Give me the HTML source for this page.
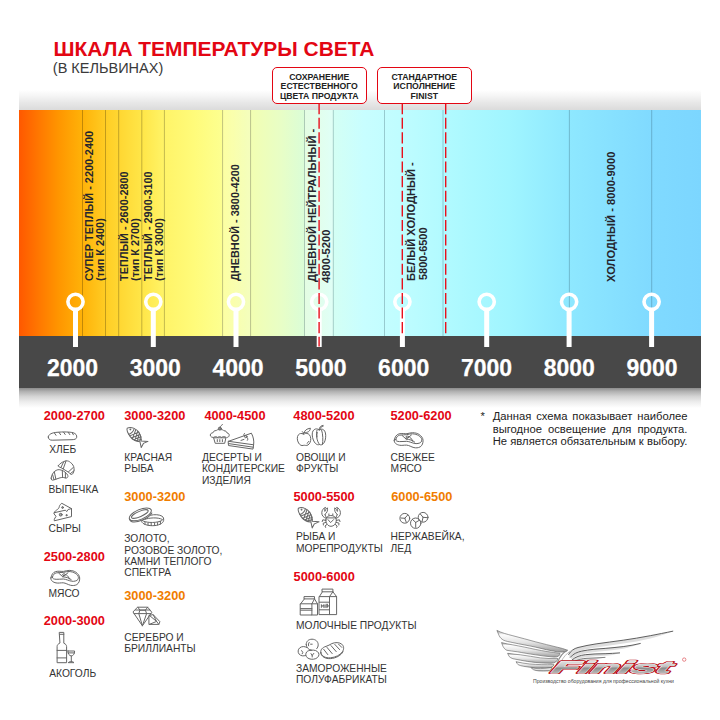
<!DOCTYPE html>
<html lang="ru">
<head>
<meta charset="utf-8">
<title>Шкала температуры света</title>
<style>
html,body{margin:0;padding:0;background:#fff;}
body{width:720px;height:720px;position:relative;overflow:hidden;font-family:"Liberation Sans",sans-serif;color:#2b2b2b;}
.abs{position:absolute;white-space:nowrap;line-height:1;}
#title{left:53.6px;top:38.9px;font-size:20.92px;font-weight:bold;color:#e30613;letter-spacing:0;}
#sub{left:52.8px;top:60.9px;font-size:14.5px;color:#3a3a3a;}
#topshade{position:absolute;left:19px;top:90px;width:682px;height:20px;background:linear-gradient(to bottom,#ffffff 0%,#f5f5f5 30%,#e8e8e8 62%,#dbdbdb 100%);}
#scale{position:absolute;left:19px;top:110px;width:682px;height:226px;
background:linear-gradient(to right,
#ff5800 0px,#ff7800 20px,#ff9600 40px,#ffb208 63px,#ffd028 90px,#ffe648 123px,#fff468 146px,#fffb7a 175px,#fdff90 203px,#f2feb2 232px,#e8fec6 262px,#dafdd8 286px,#d4fff4 314px,#c8feff 345px,#c0fdff 380px,#b0faff 430px,#a0f5ff 490px,#8ee8ff 550px,#80daff 632px,#7cd6ff 682px);}
#dark{position:absolute;left:19px;top:335.7px;width:682px;height:52px;background:#484848;}
#botshade{position:absolute;left:19px;top:387.7px;width:682px;height:20px;background:linear-gradient(to bottom,#8c8c8c 0%,#b2b2b2 18%,#d4d4d4 42%,#ededed 70%,#ffffff 100%);}
#gfx{position:absolute;left:0;top:0;width:720px;height:720px;}
.num{position:absolute;top:356.9px;width:80px;margin-left:-40px;text-align:center;font-size:23px;font-weight:bold;color:#fff;line-height:1;-webkit-text-stroke:0.25px #fff;}
.rot{position:absolute;white-space:nowrap;transform-origin:0 0;transform:rotate(-90deg);font-weight:bold;color:#26262e;font-size:11.2px;line-height:10.6px;}
.rot small{font-size:10.2px;}
.box{position:absolute;top:66.8px;height:36.9px;border:1.4px solid #e30613;border-radius:5px;background:#fff;box-sizing:border-box;text-align:center;font-weight:bold;font-size:8.7px;line-height:9.45px;color:#222;padding-top:5.2px;}
.hd{position:absolute;white-space:nowrap;font-weight:bold;font-size:12.8px;margin-top:0.8px;line-height:1;color:#e30613;}
.hd.o{color:#f07d00;}
.lb{position:absolute;white-space:nowrap;font-size:10.25px;line-height:11.25px;color:#333;margin-top:0.75px;}
.ic{position:absolute;overflow:visible;}
.ic *{fill:none;stroke:#666;stroke-width:1;stroke-linecap:round;stroke-linejoin:round;}
#note{position:absolute;left:492.7px;top:410.4px;width:194.8px;font-size:11.25px;line-height:12.2px;color:#222;}
#note div{text-align:justify;text-align-last:justify;white-space:nowrap;}
#star{position:absolute;left:480.6px;top:410.4px;font-size:11.25px;line-height:12.2px;color:#222;}
</style>
</head>
<body>
<div class="abs" id="title">ШКАЛА ТЕМПЕРАТУРЫ СВЕТА</div>
<div class="abs" id="sub">(В КЕЛЬВИНАХ)</div>
<div id="topshade"></div>
<div id="scale"></div>
<div id="dark"></div>
<div id="botshade"></div>

<svg id="gfx" viewBox="0 0 720 720">
<!-- lighter overlay bands -->
<rect x="304.5" y="110" width="28.5" height="226" fill="#ffffff" opacity="0.28"/>
<rect x="222" y="110" width="28.5" height="226" fill="#ffffff" opacity="0.16"/>
<!-- vertical thin lines -->
<g stroke="#000" stroke-opacity="0.24" stroke-width="1">
<path d="M82.5 110V336M105.5 110V336M118.7 110V336M141.8 110V336M164.4 110V336M222.6 110V336M250.6 110V336"/>
</g>
<g stroke="#1a3a44" stroke-opacity="0.26" stroke-width="1">
<path d="M304.5 110V336M333.3 110V336M384.5 110V336M443 110V336M569.4 110V336M651.700 110V336"/>
</g>
<!-- marker pins -->
<g fill="none" stroke="#fff" stroke-width="3.6">
<circle cx="75.5" cy="301.8" r="7.6"/><circle cx="153.3" cy="301.8" r="7.6"/><circle cx="236" cy="301.8" r="7.6"/><circle cx="319.2" cy="301.8" r="7.6"/><circle cx="402.4" cy="301.8" r="7.6"/><circle cx="486.7" cy="301.8" r="7.6"/><circle cx="569.1" cy="301.8" r="7.6"/><circle cx="651.6" cy="301.8" r="7.6"/>
</g>
<g fill="#fff">
<rect x="73" y="310" width="5" height="37"/><rect x="150.8" y="310" width="5" height="37"/><rect x="233.5" y="310" width="5" height="37"/><rect x="316.7" y="310" width="5" height="37"/><rect x="399.9" y="310" width="5" height="37"/><rect x="484.2" y="310" width="5" height="37"/><rect x="566.6" y="310" width="5" height="37"/><rect x="649.1" y="310" width="5" height="37"/>
</g>
<!-- red dashed lines -->
<g stroke="#e8101c" stroke-width="1.4" stroke-dasharray="11.1 3.5" fill="none">
<path d="M319.1 103.1V346.600"/><path d="M402.3 103.1V333.500"/><path d="M445.7 103.1V334.500"/>
</g>
</svg>

<!-- callout boxes -->
<div class="box" style="left:272px;width:94.5px;">СОХРАНЕНИЕ<br>ЕСТЕСТВЕННОГО<br>ЦВЕТА ПРОДУКТА</div>
<div class="box" style="left:377px;width:94.5px;">СТАНДАРТНОЕ<br>ИСПОЛНЕНИЕ<br>FINIST</div>

<!-- rotated labels -->
<div class="rot" style="left:83.82px;top:280.60px;font-size:10.95px;line-height:10.95px;">СУПЕР ТЕПЛЫЙ - 2200-2400</div>
<div class="rot" style="left:95.3px;top:280.60px;font-size:10.9px;line-height:10.9px;">(тип К 2400)</div>
<div class="rot" style="left:119.28px;top:280.60px;font-size:10.9px;line-height:10.9px;">ТЕПЛЫЙ - 2600-2800</div>
<div class="rot" style="left:129.8px;top:280.60px;font-size:10.9px;line-height:10.9px;">(тип К 2700)</div>
<div class="rot" style="left:142.98px;top:280.60px;font-size:10.9px;line-height:10.9px;">ТЕПЛЫЙ - 2900-3100</div>
<div class="rot" style="left:153.7px;top:280.60px;font-size:10.9px;line-height:10.9px;">(тип К 3000)</div>
<div class="rot" style="left:230.27px;top:280.60px;font-size:10.92px;line-height:10.92px;">ДНЕВНОЙ - 3800-4200</div>
<div class="rot" style="left:306.95px;top:282.20px;font-size:11.1px;line-height:11.1px;">ДНЕВНОЙ НЕЙТРАЛЬНЫЙ -</div>
<div class="rot" style="left:320.55px;top:282.50px;font-size:11.2px;line-height:11.2px;">4800-5200</div>
<div class="rot" style="left:405.64px;top:280.70px;font-size:11.15px;line-height:11.15px;">БЕЛЫЙ ХОЛОДНЫЙ -</div>
<div class="rot" style="left:417.75px;top:280.20px;font-size:11.0px;line-height:11.0px;">5800-6500</div>
<div class="rot" style="left:605.84px;top:281.60px;font-size:11.2px;line-height:11.2px;">ХОЛОДНЫЙ - 8000-9000</div>

<!-- scale numbers -->
<div class="num" style="left:72.5px;">2000</div>
<div class="num" style="left:155.3px;">3000</div>
<div class="num" style="left:238.1px;">4000</div>
<div class="num" style="left:320.9px;">5000</div>
<div class="num" style="left:403.7px;">6000</div>
<div class="num" style="left:486.5px;">7000</div>
<div class="num" style="left:569.3px;">8000</div>
<div class="num" style="left:652.1px;">9000</div>

<!-- LEGEND -->
<div class="hd" style="left:43.7px;top:409px;">2000-2700</div>
<div class="lb" style="left:49.2px;top:443.5px;">ХЛЕБ</div>
<div class="lb" style="left:48.5px;top:483.5px;">ВЫПЕЧКА</div>
<div class="lb" style="left:48.5px;top:522.3px;">СЫРЫ</div>
<div class="hd" style="left:43.7px;top:550px;">2500-2800</div>
<div class="lb" style="left:48.5px;top:586.8px;">МЯСО</div>
<div class="hd" style="left:43.7px;top:614px;">2000-3000</div>
<div class="lb" style="left:49.2px;top:666.8px;">АКОГОЛЬ</div>

<div class="hd" style="left:124.2px;top:409px;">3000-3200</div>
<div class="lb" style="left:124.3px;top:451px;">КРАСНАЯ<br>РЫБА</div>
<div class="hd o" style="left:124.2px;top:490.4px;">3000-3200</div>
<div class="lb" style="left:124.3px;top:532.5px;">ЗОЛОТО,<br>РОЗОВОЕ ЗОЛОТО,<br>КАМНИ ТЕПЛОГО<br>СПЕКТРА</div>
<div class="hd o" style="left:124.2px;top:589px;">3000-3200</div>
<div class="lb" style="left:124.3px;top:631.3px;">СЕРЕБРО И<br>БРИЛЛИАНТЫ</div>

<div class="hd" style="left:204.4px;top:409px;">4000-4500</div>
<div class="lb" style="left:202px;top:451.3px;">ДЕСЕРТЫ И<br>КОНДИТЕРСКИЕ<br>ИЗДЕЛИЯ</div>

<div class="hd" style="left:293.3px;top:409px;">4800-5200</div>
<div class="lb" style="left:296px;top:451.3px;">ОВОЩИ И<br>ФРУКТЫ</div>
<div class="hd" style="left:293.5px;top:490.4px;">5000-5500</div>
<div class="lb" style="left:296px;top:530.5px;">РЫБА И<br>МОРЕПРОДУКТЫ</div>
<div class="hd" style="left:293.6px;top:570.4px;">5000-6000</div>
<div class="lb" style="left:296px;top:619.3px;">МОЛОЧНЫЕ ПРОДУКТЫ</div>
<div class="lb" style="left:296px;top:662.3px;">ЗАМОРОЖЕННЫЕ<br>ПОЛУФАБРИКАТЫ</div>

<div class="hd" style="left:390.5px;top:409px;">5200-6200</div>
<div class="lb" style="left:390.6px;top:451.3px;">СВЕЖЕЕ<br>МЯСО</div>
<div class="hd o" style="left:391.2px;top:490.4px;">6000-6500</div>
<div class="lb" style="left:390.6px;top:530.5px;">НЕРЖАВЕЙКА,<br>ЛЕД</div>

<div id="star">*</div>
<div id="note"><div>Данная схема показывает наиболее</div><div>выгодное освещение для продукта.</div><div>Не является обязательным к выбору.</div></div>

<svg class="ic" style="left:0;top:0" width="720" height="720" viewBox="0 0 720 720">
<!-- bread -->
<path d="M48.3 437C48.3 434.2 52 432.7 57 432.3C63 431.7 70 431.9 73 432.7C76 433.5 77 435.4 76.7 437.3C76.4 439.1 74.6 439.6 72 439.7L52.2 440.2C49.6 440.2 48.3 439 48.3 437Z"/>
<path d="M54.4 433L56 435.3M59 432.4L60.6 434.7M63.6 432.2L65.2 434.5M68.2 432.3L69.8 434.6M72.2 432.9L73.4 434.8" stroke-width=".8"/>
<!-- croissants -->
<path d="M58.3 465.6C60 463.6 62 462.2 63.6 461.7C64.6 461.2 65.4 460.9 66.2 460.8C68 460.8 69.4 461.4 70.4 462.4C71.6 463.2 72.4 464.2 72.9 465C73.6 466 74 467.2 74 468.3C74.2 469.6 74.2 470.8 73.7 471.7C73.4 472.8 73 473.6 72.3 474.2C71.8 474.6 71.2 474.6 70.7 474.2C69.8 473.4 69.2 472.8 68.4 472.2L61.8 468.1C60.6 467.5 59.4 467 58.6 466.6C58.1 466.3 58 465.9 58.3 465.6Z"/>
<path d="M63.7 461.8L60.9 467.5M66 461L63.2 468.9M73.2 467.5L68.4 471.9M74 470.8L70.4 473.6" stroke-width=".8"/>
<path d="M51.2 478.1C51.4 476.6 51.8 475.4 52.3 474.4C52.9 473.2 53.6 472.2 54.6 471.4C55.6 470.6 56.7 470 57.9 469.7C59.2 469.5 60.6 469.8 61.8 470.3C63 470.7 64.2 471.4 65.1 472.2C66.2 473 67.1 474 67.6 475C68 475.8 68.1 476.6 67.6 477.2C67.2 477.8 66.7 478.1 66.2 478.1C65.2 478 64.3 477.6 63.4 477.5C62.3 477.4 61.2 477.5 60.1 477.8C59 478.1 57.9 478.5 56.8 478.9L53.4 480C52.8 480.2 52.2 480.2 51.8 480C51.3 479.6 51.1 478.8 51.2 478.1Z"/>
<path d="M54.3 471.7L55.9 479.2M52.6 474.7L54 479.7M62.3 470.6L62.6 477.5M65.4 472.5L65.4 477.8" stroke-width=".8"/>
<!-- cheese -->
<path d="M54.3 512.7L65.4 510.2L66.7 511.6L68.1 509.5L71.5 508.6L71.5 516.6L54.3 520.8L54.3 519.2L56 516.3L54.3 514.2Z"/>
<path d="M54.3 512.7C54.5 511.2 56 510.5 57.4 509.5C58.8 508.5 59.2 507.5 59.4 506.3C59.7 505 60.8 504 61.8 503.3L71.5 508.6"/>
<circle cx="62.6" cy="507.5" r=".9" style="fill:#999"/><circle cx="60.7" cy="514.7" r="1.4" style="fill:#aaa"/><circle cx="66.5" cy="515.2" r=".6" style="fill:#888"/>
<!-- steak 1 -->
<path d="M50.9 577.9C51.5 574.5 53 572.4 55.6 571.6C58.5 570.8 61.5 571.6 63.6 571.4C65.6 571.2 67 570.3 69.2 570.4C72 570.5 74.2 571 75.8 572.2C78 573.8 79.6 575.6 79.7 578C79.8 580.6 79 583.2 76.8 584.6C74.8 585.7 72.6 585.7 70.6 585.3C67.8 584.6 65.8 583 63.2 582.8C60.6 582.7 58.6 583.4 56 582.9C53.4 582.3 50.4 580.8 50.9 577.9Z"/><path d="M52.4 577.2C53 574.6 54.4 573.4 56.2 572.9C58.6 572.3 61.4 572.8 63.4 572.4C65.4 572 67 571.4 69 571.5C71.6 571.7 73.6 572.2 75.2 573.3C77 574.6 78.4 575.8 78.4 577.4C78.4 579.2 77.6 580.4 75.8 580.9C74.2 581.4 73 581.4 71.6 581.2C68.6 580.7 66.2 579.2 63.4 579C60.8 578.9 58.4 579.5 56.2 579.3C54 579.1 52 578.8 52.4 577.2Z"/><path d="M58.8 573.2L62.8 576.8L68 572.8M62.8 576.8C66 577 69.6 578 71.4 579.8M66.6 575C68 576 69 577.6 69.4 579"/><ellipse cx="64" cy="574.7" rx="1.5" ry=".9"/>
<!-- bottle + glass -->
<path d="M59.6 632.4H63.8V643.2C65.6 644 66.6 645 66.6 646.6V662.7H57.1V646.6C57.1 645 58 644 59.6 643.2Z"/>
<path d="M59.6 634.3H63.8M57.1 650.4H66.6M57.1 657.9H66.6"/>
<path d="M67.9 651H74.6C74.6 654 73.4 655.6 71.3 656C69.2 655.6 67.9 654 67.9 651ZM71.3 656V661.6M68.5 662.4C69.4 661.7 70.4 661.5 71.3 661.5C72.2 661.5 73 661.7 73.7 662.4ZM68.1 652.9H74.4"/>
<!-- fish 1 -->
<g transform="translate(127.2 428.1) rotate(42.6)"><path d="M0 0C1.5 -4 7 -6 12 -4.6C15.5 -3.6 18 -1.5 19 0L24.3 -4.3L22.3 .3L23.5 4.8L18.6 1.4C16 3.5 12 5 8 4.2C3.5 3.2 .8 2.4 0 0Z"/><path d="M5.5 -4.2C6.8 -2 6.8 2 5.2 3.6"/><circle cx="3.2" cy="-1.2" r=".45"/><path d="M7.4 -4.6L11.2 4.6M9.8 -5L14 3.9M12.4 -4.5L16.200 2.7M15 -3.3L18 .8M7.2 3.9L11.2 -5M9.6 4.5L13.8 -4M12.2 4.4L16 -2.9M14.800 3.4L18 -1.2" stroke-width=".75"/></g>
<!-- rings -->
<g transform="translate(140.3 514.4) rotate(-23)"><ellipse rx="11.8" ry="4.9"/><ellipse cx="-.3" cy="-.5" rx="9" ry="2.6"/><path d="M-11.8 0C-11.9 1.6 -11.5 2.6 -10.6 3.4C-7 6.6 6 7.2 11.2 3.2"/></g>
<path d="M150.6 515.2C154.4 514.2 159.6 514.6 162 516.2C163.6 517.2 163.8 518.6 163.6 520.6C163.2 523.4 158.6 525.6 152.8 525.7C147.6 525.7 142.6 524.4 141.6 521.6"/>
<path d="M144.8 519.4C148.8 517.6 158.2 517.2 161.8 519.2M142 520.4C145 522.6 154 523.4 160.4 521.2C162.4 520.4 163.4 519.4 163.6 518.4M160.4 521.2V524"/>
<path d="M145 522.3V524.6M148 523V525.2M151.2 523.3V525.6M154.6 523.2V525.6M157.6 522.6V524.9" stroke-width=".8"/>
<!-- diamonds -->
<path d="M137.9 607.2H147.7L151.8 612.3L142.4 625.8L133.2 612.3Z"/>
<path d="M134 613.6H151M135.6 610H149.8M139.9 610.2H145.4M137.9 607.2L139.9 610.2L138.8 613.6L142.4 625.8M147.7 607.2L145.4 610.2L146.6 613.6L142.4 625.8" stroke-width=".8"/>
<path d="M149.3 615.3L153.2 614.7L159.9 621.7L158.8 624.4H149.3Z"/>
<path d="M149.3 615.3L156.6 621.4L149.3 624.4M153.2 614.7L156.6 621.4L158.8 624.4" stroke-width=".8"/>
<!-- cupcake -->
<path d="M212.6 437.4C210.4 437.2 209.8 435.2 210.6 434C211.2 433 212.4 432.8 213 432.8C213.2 431.4 214.6 430.4 216.2 430.6C217 429.8 218 429.4 218.8 429.6M221.2 429.6C222.4 429.6 223.4 430 224 430.8C225.6 430.6 226.8 431.6 227 433C228.4 433 229.4 434.2 229.2 435.4C229 436.8 228 437.4 227.2 437.4"/>
<circle cx="219.9" cy="428.6" r="1.5" style="fill:#8a8a8a"/><path d="M220.2 427.2C220.6 426 221.4 425.2 222.4 424.6"/>
<path d="M213.4 437.4C215 436.4 216.4 436.4 217.6 437.4C218.8 436.4 220.4 436.4 221.6 437.4C222.8 436.4 224.6 436.4 226.2 437.4M214 437.8H225.9L224.7 443.3H215.6ZM217.3 439.6V441.6M219.8 439.6V441.6M222.4 439.6V441.6"/>
<!-- cake slice -->
<path d="M228.5 441.3L251.4 433.2C253.4 437 254.2 441 253.6 444.8L253 449.1L228.9 445.6Z"/>
<path d="M228.5 441.3L253.6 444.8M228.7 443.6L253.3 447.2" stroke-width=".8"/>
<circle cx="245.8" cy="436.6" r="1.2"/><path d="M244.6 436.2C243.4 434.8 243.6 434 244.6 433.4M247 437.4C248.2 438.6 248 439.8 247.4 440.4M241 440.4L244 439.4" stroke-width=".8"/>
<!-- apple -->
<path d="M303.1 433.9C301.6 433 299.6 433.4 298.4 434.8C296.8 436.8 297 440.4 298.6 443C299.8 445 301.6 446 303.2 445.4C304 445.2 304.6 445.2 305.4 445.4C307.2 446 309 444.6 310 442.6C311.2 440 311 436.6 309.4 434.8C308 433.2 305.8 433 304.4 433.9C304 434.1 303.5 434.1 303.1 433.9Z"/>
<path d="M303.6 433.8C303.4 432.8 303 432.2 302.4 431.6M304.2 432.6C304.6 430.2 306.8 428.8 310.4 428.2C310.2 431 308.2 432.8 304.2 432.6ZM307 443.4C307.8 442.8 308.4 442.2 308.8 441.4" />
<!-- pepper -->
<path d="M319.2 429.8C317.6 428.6 315.6 428.6 314.2 429.6C312.2 431 311.8 434 312.6 437.6C313.4 441 315 443.6 316.8 444.4C317.8 444.9 318.6 444.8 319.4 444.4C320.4 445 321.4 445 322.4 444.4C324 443.6 325.2 441.2 325.6 437.8C326 434.4 325.4 431 323.6 429.8C322.2 428.8 320.6 429 319.2 429.8Z"/>
<path d="M319.4 444.4C317 441.6 315.6 434.6 317 430.2M322.4 444.4C323.2 441 323 433.8 321.6 430M319.1 429.8C319.3 427.4 320.6 425.6 323 425.4M319.9 429.8C320.1 427.8 321.2 426.3 323.2 426.1M317.2 432.4C316.8 434 316.8 435.6 317 437"/>
<!-- fish 2 -->
<g transform="translate(298.4 508.3) rotate(43.4)"><path d="M0 0C1.5 -4 7 -6 12 -4.6C15.5 -3.6 18 -1.5 19 0L24.3 -4.3L22.3 .3L23.5 4.8L18.6 1.4C16 3.5 12 5 8 4.2C3.5 3.2 .8 2.4 0 0Z"/><path d="M5.5 -4.2C6.8 -2 6.8 2 5.2 3.6"/><circle cx="3.2" cy="-1.2" r=".45"/><path d="M7.4 -4.6L11.2 4.6M9.8 -5L14 3.9M12.4 -4.5L16.200 2.7M15 -3.3L18 .8M7.2 3.9L11.2 -5M9.6 4.5L13.8 -4M12.2 4.4L16 -2.9M14.800 3.4L18 -1.2" stroke-width=".75"/></g>
<!-- crab -->
<path d="M325.8 520C326 517.2 328 515.6 330.8 515.5C333.6 515.5 336.2 517 336.3 520C336.4 523.4 334 526.2 331 526.3C328 526.3 325.6 523.4 325.8 520ZM326.2 517.9H335.9"/>
<path d="M328 519.6L330.6 522.6L333.6 519.6M328.9 513.9V515.2M332.8 513.9V515.2" />
<path d="M326 518.2C323.4 517.6 321.6 515.4 321.8 512.6C322 510 323.4 508 325.6 507.4C324.6 508.8 324.4 510.2 324.8 511.4C325.4 510 326.2 508.6 327.4 507.8C328 510.4 327 513 325 514.4M325 514.4C325.2 515.6 325.6 516.6 326.4 517.4"/>
<path d="M336.2 518.2C338.8 517.6 340.6 515.4 340.4 512.6C340.2 510 338.8 508 336.6 507.4C337.6 508.8 337.8 510.2 337.4 511.4C336.8 510 336 508.6 334.8 507.8C334.2 510.4 335.2 513 337.2 514.4M337.2 514.4C337 515.6 336.6 516.6 335.8 517.4"/>
<path d="M325.8 520.4L322.8 519.8L322.2 521.6M326 522.4L323.2 523.2L323.4 525M327 524.4L325 526L325.6 527.4M336.4 520.4L339.4 519.8L340 521.6M336.2 522.4L339 523.2L338.8 525M335.2 524.4L337.2 526L336.6 527.4"/>
<!-- milk -->
<path d="M300.6 603.8H311.9V615H300.6ZM311.9 603.8H317.5V615H311.9M304.4 596.6H314.5V598.9H304.4ZM304.4 598.9L300.6 603.8M314.5 598.9L317.5 603.8M314.5 598.9L311.9 603.8M300.6 608.6H311.9M300.6 610.2H311.9"/>
<path d="M319.4 596.6H329.5V614.6H319.4ZM329.5 596.6H336.6V614.6H329.5M322.4 589.1H332.9V591.8H322.4ZM322.4 591.8L319.4 596.6M332.9 591.8L336.6 596.6M332.9 591.8L329.5 596.6M319.4 602.2H329.5M319.4 609.8H329.5M321.4 607.4V604.6L322.6 606.4L323.8 604.6V607.4M325 605.2V607.4M326.2 604.2V607.4M327.4 604.2V607.4L328.6 605.6" stroke-width=".85"/>
<!-- frozen -->
<path d="M306.2 644.6C306 641.4 308.6 639.2 312 639.2C315.600 639.2 318.2 641.600 318.2 644.800C318.2 646.400 317.600 647.800 316.600 648.800"/>
<path d="M306.600 647.400C304.800 646.200 301.800 646.200 299.800 647.800C297.800 649.400 297.600 652.400 299.200 654.200C300.800 656 303.600 656.400 305.600 655.400"/>
<path d="M306.200 644.600C306.300 647.200 308.200 649.600 311 650.200M311 650.200C314.400 649.600 317.400 650.800 318.600 653C319.600 655 318.400 657.400 315.800 658.600C313 659.800 309.200 659.400 307.200 657.600C305.400 656 305.400 653.400 306.800 651.800C307.800 650.800 309.400 650.300 311 650.200Z"/>
<path d="M309.200 642.400C308.400 643.400 308.200 644.600 308.600 645.800M310.600 644.200H312.200M301.600 650.600L302.800 652.400L302.200 653.800M311 653.600L312.200 655.400L313.800 653.400M312.200 655.400V657" stroke-width=".8"/>
<path d="M320.800 652.600C320.200 649.800 322.400 647.400 326 646.400C328.400 645.800 329.600 644.600 331.800 643.600C335 642.200 339.400 642.200 341.800 644.200C344 646 344.200 649.200 342.400 651.800C340.200 655 335.600 657.400 330.400 657.800C325.600 658.200 321.400 656.400 320.800 652.600Z"/>
<path d="M320.900 653.400C321.400 656.600 325.400 659 330.600 658.600C336 658.200 341.200 655.400 343 651.800M323.600 649.200L327.800 654.600M327 647.400L332.200 653.600M331 645.600L336.200 651.600M334.800 644.400L339.600 649.600M338.600 644.200L341.800 647.400" />
<!-- steak 2 -->
<g transform="translate(343.35 -137.7)"><path d="M50.9 577.9C51.5 574.5 53 572.4 55.6 571.6C58.5 570.8 61.5 571.6 63.6 571.4C65.6 571.2 67 570.3 69.2 570.4C72 570.5 74.2 571 75.8 572.2C78 573.8 79.6 575.6 79.7 578C79.8 580.6 79 583.2 76.8 584.6C74.8 585.7 72.6 585.7 70.6 585.3C67.8 584.6 65.8 583 63.2 582.8C60.6 582.7 58.6 583.4 56 582.9C53.4 582.3 50.4 580.8 50.9 577.9Z"/><path d="M52.4 577.2C53 574.6 54.4 573.4 56.2 572.9C58.6 572.3 61.4 572.8 63.4 572.4C65.4 572 67 571.4 69 571.5C71.6 571.7 73.6 572.2 75.2 573.3C77 574.6 78.4 575.8 78.4 577.4C78.4 579.2 77.6 580.4 75.8 580.9C74.2 581.4 73 581.4 71.6 581.2C68.6 580.7 66.2 579.2 63.4 579C60.8 578.9 58.4 579.5 56.2 579.3C54 579.1 52 578.8 52.4 577.2Z"/><path d="M58.8 573.2L62.8 576.8L68 572.8M62.8 576.8C66 577 69.6 578 71.4 579.8M66.6 575C68 576 69 577.6 69.4 579"/><ellipse cx="64" cy="574.7" rx="1.5" ry=".9"/></g>
<!-- ice -->
<circle cx="404.800" cy="518.300" r="4.900"/><path d="M404.800 518.300L401 518M404.800 518.300L407.700 515M404.800 518.300L406.300 522.300"/>
<circle cx="415.700" cy="523.200" r="5.200"/><path d="M415.700 522.400L412.300 519.300M415.700 522.400L419.300 520.300M415.700 522.400V527.400"/>
<circle cx="423.100" cy="517.300" r="4.900"/><path d="M423.100 517.300L420.300 514M423.100 517.300L427.300 517.700M423.100 517.300L422 521.700"/>
</svg>

<svg style="position:absolute;left:0;top:0" width="720" height="720" viewBox="0 0 720 720">
<defs>
<linearGradient id="fg" x1="0" y1="0" x2="0" y2="1"><stop offset="0" stop-color="#9a9a9a"/><stop offset=".2" stop-color="#fdfdfd"/><stop offset=".55" stop-color="#e4e4e4"/><stop offset="1" stop-color="#9c9c9c"/></linearGradient>
<linearGradient id="rg" x1="0" y1="0" x2="0" y2="1"><stop offset="0" stop-color="#4a4a4a"/><stop offset=".3" stop-color="#8a8a8a"/><stop offset=".6" stop-color="#cfcfcf"/><stop offset="1" stop-color="#f4f4f4"/></linearGradient>
<linearGradient id="tg" x1="0" y1="0" x2="0" y2="1"><stop offset="0" stop-color="#f2f2f2"/><stop offset=".45" stop-color="#c4c4c4"/><stop offset=".55" stop-color="#8c8c8c"/><stop offset="1" stop-color="#d8d8d8"/></linearGradient>
</defs>
<g fill="url(#fg)" stroke="#5e5e5e" stroke-width=".6" stroke-linejoin="round">
<path d="M496.9 630.4C502 633 507 634.200 512.900 635.750C521 637.800 528 639.800 535.800 641.900C543 643.800 550 645.400 557.200 647.200C561 648 564 648.800 567.500 650.200C566 651.800 563 652.600 557.200 651.800C550 650.600 543 649 535.800 647.200C528 645.400 520 644.200 512.900 642.600C509 641.800 506 641.200 503.750 640.300C501.500 639 500 637.600 499.200 635.750C498.400 634 497.600 632.200 496.900 630.400Z"/>
<path d="M501.500 642.600C505 643.600 509 644.200 512.900 644.900C520 646.200 528 647.800 535.800 649.500C543 651 551 652.200 560 653.300C560 655.600 558 657.300 554.200 657.100C548 656.700 542 655.800 535.800 654.850C529 653.900 523 652.800 517.500 651.800C513.500 651.200 510 650.900 506.800 650.300C505 649.400 503.800 648 503 646.400C502.400 645.200 501.900 643.900 501.500 642.600Z"/>
<path d="M507.600 653.300C512 654 516 654.400 520.600 654.850C527 655.700 534 656.900 540.400 657.900C546 658.500 552 658.700 558 658.600C557 661.500 555 663.300 551.100 663.250C546 663.200 541 663 535.800 662.500C530 661.900 525 661 520.600 660.200C518 659.700 515.500 659.300 512.900 658.700C511.200 658.100 510 657.400 509.100 656.400C508.500 655.400 508 654.400 507.600 653.300Z"/>
<path d="M516 661.700C520.500 662.800 525 663.500 529.700 664C537 664.600 545 664.900 554 664.600C553 666.800 551.500 667.800 548 667.800C544 668 540 668 535.800 667.800C531.500 667.500 527.500 667 523.600 666.300C521.600 665.900 519.800 665.500 518.300 664.800C517.300 663.900 516.600 662.800 516 661.700Z"/>
<path d="M531.250 667.800C534.500 668.500 537.500 668.700 540.400 668.600C544 668.500 548 668.200 552 667.600C551.500 669.800 550 670.800 548 670.900C545 671.100 542 671.100 538.900 670.900C537 670.700 535 670.400 533.500 669.700C532.600 669.200 531.800 668.600 531.250 667.800Z"/>
</g>
<path d="M567.500 650.200C563 652.500 559.500 657 557.500 662.500C556.500 665.400 555 668.400 552.600 670.900" fill="none" stroke="#8a8a8a" stroke-width="1.1"/>
<path d="M570.500 651C566.500 653.500 563 657.500 561 662" fill="none" stroke="#b4b4b4" stroke-width=".9"/>
<g fill="#dedede" stroke="none">
<path d="M568.600 654.400C571 650.500 574 648.600 578 647.500C584 645.900 590 644.900 596.100 643.900C605 642.600 614 641.500 623.200 640.200C632 638.900 641 637.500 650.300 635.700C658 634.200 665 632.800 672.800 631.200C665 634.300 658 636.400 650.300 638.400C641 640.600 632 642.200 623.200 643.600C614 645 605 646.100 596.100 647.400C590 648.300 584 649.400 578.600 651.200C574.500 652.600 571.600 654.800 569.800 657.400Z"/>
<path d="M570.400 657.200C573 653.800 577 652.200 581.700 651.100C589 649.600 597 648.900 605.100 648.400C611 647.900 617 647.300 623.200 646.600C629 645.800 635 644.800 640.300 643.500C635 645.800 629 647.600 623.200 648.700C617 649.800 611 650.400 605.100 650.900C597 651.500 589 652.300 582.400 653.900C577.600 655 574 656.800 571.800 659.600Z"/>
<path d="M572.200 659.800C575.500 656.800 580 655.400 585.300 654.700C592 653.900 598 653.800 605.100 653.700C610 653.500 615 653.300 619.600 652.900C615 654.500 610 655.400 605.100 655.800C598 656.300 592 656.400 585.800 657.200C581 657.800 577 659.200 573.600 661.800Z"/>
<path d="M574 661.600C578 659.400 582 658.600 587 658.300C593 658 599 657.800 605 657.400C599 659 593 659.600 587.400 660C583 660.300 579 661.200 575.400 663.200Z"/>
</g>
<g fill="none" stroke="#4e4e4e" stroke-width=".9" stroke-linecap="round">
<path d="M568.600 654.400C571 650.500 574 648.600 578 647.500C584 645.900 590 644.900 596.100 643.900C605 642.600 614 641.500 623.200 640.200C632 638.900 641 637.500 650.300 635.700C658 634.200 665 632.800 672.800 631.200"/>
<path d="M570.400 657.200C573 653.800 577 652.200 581.700 651.100C589 649.600 597 648.900 605.100 648.400C611 647.900 617 647.300 623.200 646.600C629 645.800 635 644.800 640.300 643.500"/>
<path d="M572.200 659.800C575.500 656.800 580 655.400 585.300 654.700C592 653.900 598 653.800 605.100 653.700C610 653.500 615 653.300 619.600 652.900"/>
<path d="M574 661.600C578 659.400 582 658.600 587 658.300C593 658 599 657.800 605 657.400" stroke-width=".7"/>
</g>
<g font-family="Liberation Sans, sans-serif" font-weight="bold" font-style="italic" font-size="16.800" transform="translate(550.500 673.200) skewX(-22) scale(2.660 1)">
<text x="0" y="0" fill="#b80c16" stroke="#b80c16" stroke-width="4.400" stroke-linejoin="round" vector-effect="non-scaling-stroke">Finist</text>
<text x="0" y="0" fill="#ffffff" stroke="#ffffff" stroke-width="1.700" stroke-linejoin="round" vector-effect="non-scaling-stroke">Finist</text>
<text x="0" y="0" fill="url(#tg)" stroke="url(#tg)" stroke-width=".700" vector-effect="non-scaling-stroke">Finist</text>
</g>
<circle cx="684.200" cy="659.600" r="1.700" fill="none" stroke="#d01820" stroke-width=".5"/>
<text x="533" y="683" font-family="Liberation Sans, sans-serif" font-size="5.140" fill="#444">Производство оборудования для профессиональной кухни</text>
</svg>

</body>
</html>
